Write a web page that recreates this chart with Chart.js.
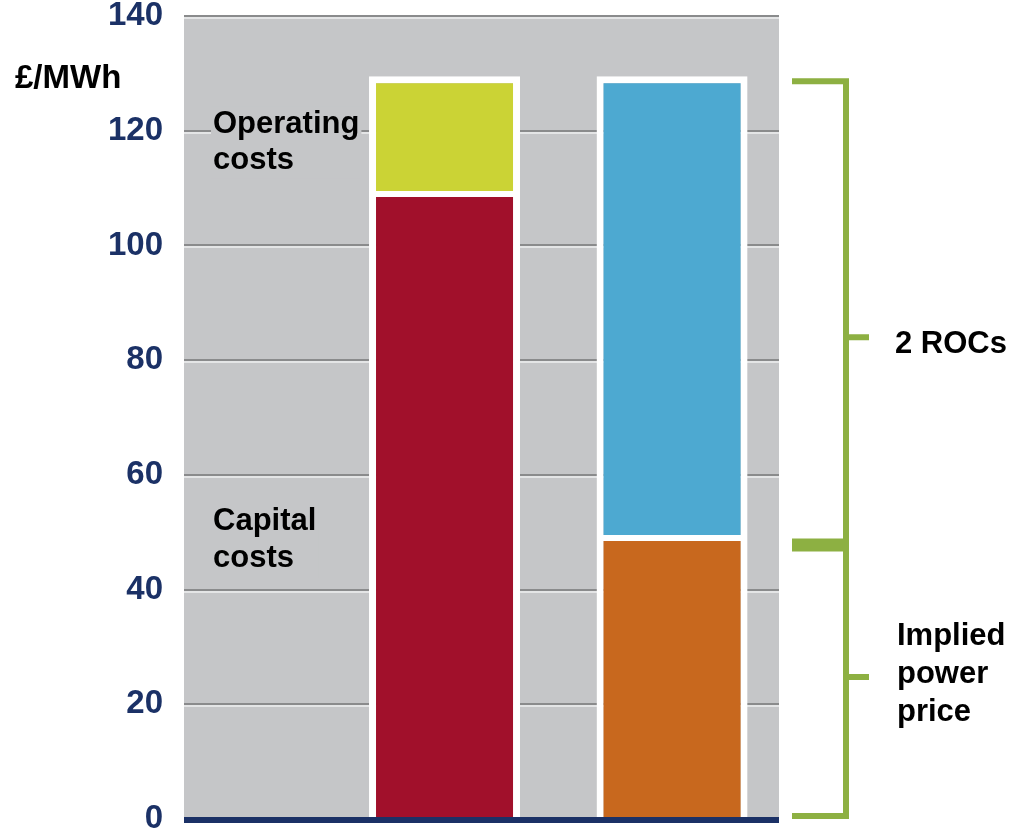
<!DOCTYPE html>
<html>
<head>
<meta charset="utf-8">
<title>Cost of generation vs support</title>
<script src="https://cdn.jsdelivr.net/npm/chart.js@4.4.0/dist/chart.umd.min.js"></script>
<style>
    html, body { margin: 0; padding: 0; background: #ffffff; }
    canvas { display: block; }
</style>
</head>
<body>
<canvas id="costChart" width="1011" height="829"></canvas>
<script>
// column positions on the x axis (left column = costs, right column = revenue)
const columns = [1, 2];

// £/MWh
const capitalCosts = [109.5, null];
const operatingCosts = [20, null];
const powerPrice = [null, 49.5];
const rocSupport = [null, 80];

const valueTicks = [0, 20, 40, 60, 80, 100, 120, 140];

const FONT = '"Liberation Sans", Arial, Helvetica, sans-serif';
const PLOT_GREY = "#c5c6c8";
const NAVY = "#1b3166";
const GREEN = "#8db042";

function toPoints(values) {
    return values
        .map((v, i) => ({ x: columns[i], y: v }))
        .filter(p => p.y !== null);
}

function drawTextBlock(ctx, lines, x, yMid, lineHeight, background) {
    const top = yMid - (lines.length * lineHeight) / 2;
    if (background) {
        const w = Math.max(...lines.map(l => ctx.measureText(l).width));
        ctx.fillStyle = background;
        ctx.fillRect(x - 2, top, w + 4, lines.length * lineHeight);
    }
    ctx.fillStyle = "#000000";
    ctx.textAlign = "left";
    ctx.textBaseline = "middle";
    lines.forEach((line, i) => {
        ctx.fillText(line, x, top + lineHeight * (i + 0.5));
    });
}

const decorations = {
    id: "decorations",
    beforeDraw(chart) {
        const { ctx, chartArea: a } = chart;
        ctx.save();
        ctx.fillStyle = PLOT_GREY;
        ctx.fillRect(a.left, a.top, a.right - a.left, a.bottom - a.top);
        ctx.restore();
    },
    beforeDatasetsDraw(chart) {
        const { ctx, chartArea: a, scales } = chart;
        const y = scales.y;
        ctx.save();
        // light highlight under each grid line
        ctx.fillStyle = "#e4e5e6";
        valueTicks.forEach(v => {
            const py = Math.round(y.getPixelForValue(v));
            ctx.fillRect(a.left, py + 1, a.right - a.left, 2);
        });
        ctx.font = "bold 31px " + FONT;
        drawTextBlock(ctx, ["Operating", "costs"], a.left + 29, y.getPixelForValue(118), 36, PLOT_GREY);
        drawTextBlock(ctx, ["Capital", "costs"], a.left + 29, y.getPixelForValue(48.6), 37, PLOT_GREY);
        ctx.restore();
    },
    afterDatasetsDraw(chart) {
        const { ctx, chartArea: a, scales } = chart;
        const y = scales.y;
        ctx.save();

        // base axis
        ctx.fillStyle = NAVY;
        ctx.fillRect(a.left, Math.round(y.getPixelForValue(0)) - 2, a.right - a.left, 6);

        // bracket spanning the revenue column
        const total = powerPrice[1] + rocSupport[1];
        const yTop = y.getPixelForValue(total) + 5;
        const yMid = y.getPixelForValue(powerPrice[1]) + 10;
        const yBot = y.getPixelForValue(0) - 3;
        const xArm = a.right + 13;
        const xSpine = a.right + 67;
        const xTick = a.right + 90;

        ctx.strokeStyle = GREEN;
        ctx.lineWidth = 6;
        ctx.lineCap = "butt";
        ctx.beginPath();
        ctx.moveTo(xArm, yTop);
        ctx.lineTo(xSpine + 3, yTop);
        ctx.moveTo(xSpine, yTop - 3);
        ctx.lineTo(xSpine, yBot + 3);
        ctx.moveTo(xArm, yBot);
        ctx.lineTo(xSpine + 3, yBot);
        const yRoc = y.getPixelForValue(84);
        const yPower = y.getPixelForValue(powerPrice[1] / 2);
        ctx.moveTo(xSpine, yRoc);
        ctx.lineTo(xTick, yRoc);
        ctx.moveTo(xSpine, yPower);
        ctx.lineTo(xTick, yPower);
        ctx.stroke();

        ctx.lineWidth = 13;
        ctx.beginPath();
        ctx.moveTo(xArm, yMid);
        ctx.lineTo(xSpine, yMid);
        ctx.stroke();

        ctx.font = "bold 31px " + FONT;
        drawTextBlock(ctx, ["2 ROCs"], a.right + 116, yRoc + 7, 36);
        drawTextBlock(ctx, ["Implied", "power", "price"], a.right + 118, yPower - 3, 38);

        // unit label
        ctx.font = "bold 33px " + FONT;
        ctx.fillStyle = "#000000";
        ctx.textAlign = "left";
        ctx.textBaseline = "middle";
        ctx.fillText("£/MWh", 15, 79);

        ctx.restore();
    }
};

const segmentBorder = { top: 7, left: 7, right: 7, bottom: 0 };
const lowerBorder = { top: 6, left: 7, right: 7, bottom: 0 };

new Chart(document.getElementById("costChart"), {
    type: "bar",
    data: {
        datasets: [
            {
                label: "Capital costs",
                data: toPoints(capitalCosts),
                backgroundColor: "#a1102b",
                borderWidth: lowerBorder
            },
            {
                label: "Operating costs",
                data: toPoints(operatingCosts),
                backgroundColor: "#cbd335",
                borderWidth: segmentBorder
            },
            {
                label: "Implied power price",
                data: toPoints(powerPrice),
                backgroundColor: "#c8681e",
                borderWidth: lowerBorder
            },
            {
                label: "2 ROCs",
                data: toPoints(rocSupport),
                backgroundColor: "#4da9d1",
                borderWidth: segmentBorder
            }
        ]
    },
    options: {
        responsive: false,
        animation: false,
        layout: {
            autoPadding: false,
            padding: { left: 0, right: 232, top: 16, bottom: 10 }
        },
        datasets: {
            bar: {
                barThickness: 151,
                borderColor: "#ffffff",
                borderSkipped: false,
                inflateAmount: 0
            }
        },
        plugins: {
            legend: { display: false },
            tooltip: { enabled: false }
        },
        scales: {
            x: {
                type: "linear",
                stacked: true,
                display: false,
                offset: false,
                min: -0.145,
                max: 2.47
            },
            y: {
                stacked: true,
                min: 0,
                max: 140,
                afterBuildTicks: scale => {
                    scale.ticks = valueTicks.map(v => ({ value: v }));
                },
                afterFit: scale => {
                    scale.width = 184;
                    scale.paddingTop = 0;
                    scale.paddingBottom = 0;
                },
                border: { display: false },
                grid: {
                    color: "#8a8b8c",
                    lineWidth: 2,
                    drawTicks: false,
                    tickLength: 0
                },
                ticks: {
                    padding: 21,
                    color: NAVY,
                    font: { family: FONT, size: 33, weight: "bold" }
                }
            }
        }
    },
    plugins: [decorations]
});
</script>
</body>
</html>
